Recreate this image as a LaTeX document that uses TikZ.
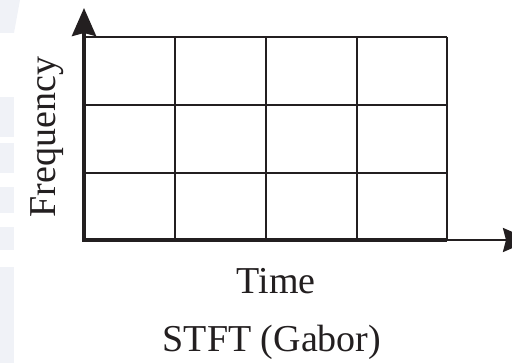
\documentclass[tikz,border=0pt]{standalone}
\usepackage{fontspec}
\setmainfont{Liberation Serif}
\usetikzlibrary{arrows.meta}
\definecolor{ink}{RGB}{35,31,32}
\definecolor{wm}{RGB}{240,242,247}
\begin{document}
\begin{tikzpicture}[x=1pt,y=-1pt,
  gridline/.style={line width=2pt, draw=ink},
  axisline/.style={line width=4pt, draw=ink, line join=miter},
  lbl/.style={font=\fontsize{38}{40}\selectfont, text=ink, inner sep=0pt},
  tip/.style={-{Stealth[length=28pt,width=24pt,inset=3pt]}}]
\useasboundingbox (0,0) rectangle (512,363);
\clip (0,0) rectangle (512,363);
% faint watermark strips
\fill[wm] (0,0) -- (20,0) -- (14,33) -- (0,33) -- cycle;
\fill[wm] (0,97) rectangle (14,137);
\fill[wm] (0,143) rectangle (14,173);
\fill[wm] (0,187) rectangle (14,213);
\fill[wm] (0,227) rectangle (14,250);
\fill[wm] (0,267) rectangle (14,363);
% grid
\foreach \x in {175,266,357} \draw[gridline] (\x,37) -- (\x,240);
\foreach \y in {37,105,173} \draw[gridline] (83,\y) -- (447,\y);
\draw[gridline, line width=2.5pt] (447,37) -- (447,240);
% axes
\coordinate (o) at (84,240);
\coordinate (xend) at (447,240);
\coordinate (ytop) at (84,40);
\coordinate (ytip) at (84,8);
\coordinate (xtip) at (531,240);
\draw[axisline] (xend) -- (o) -- (ytop);
\draw[line width=4pt, draw=ink, tip, fill=ink] (ytop) -- (ytip);
\draw[line width=2.5pt, draw=ink, tip, fill=ink] (xend) -- (xtip);
% labels
\node[lbl, anchor=base] (time) at (276,294) {Time};
\node[lbl, anchor=base] (title) at (272,352) {STFT (Gabor)};
\node[lbl, rotate=90, anchor=base] (freq) at (55,137) {Frequency};
\end{tikzpicture}
\end{document}
